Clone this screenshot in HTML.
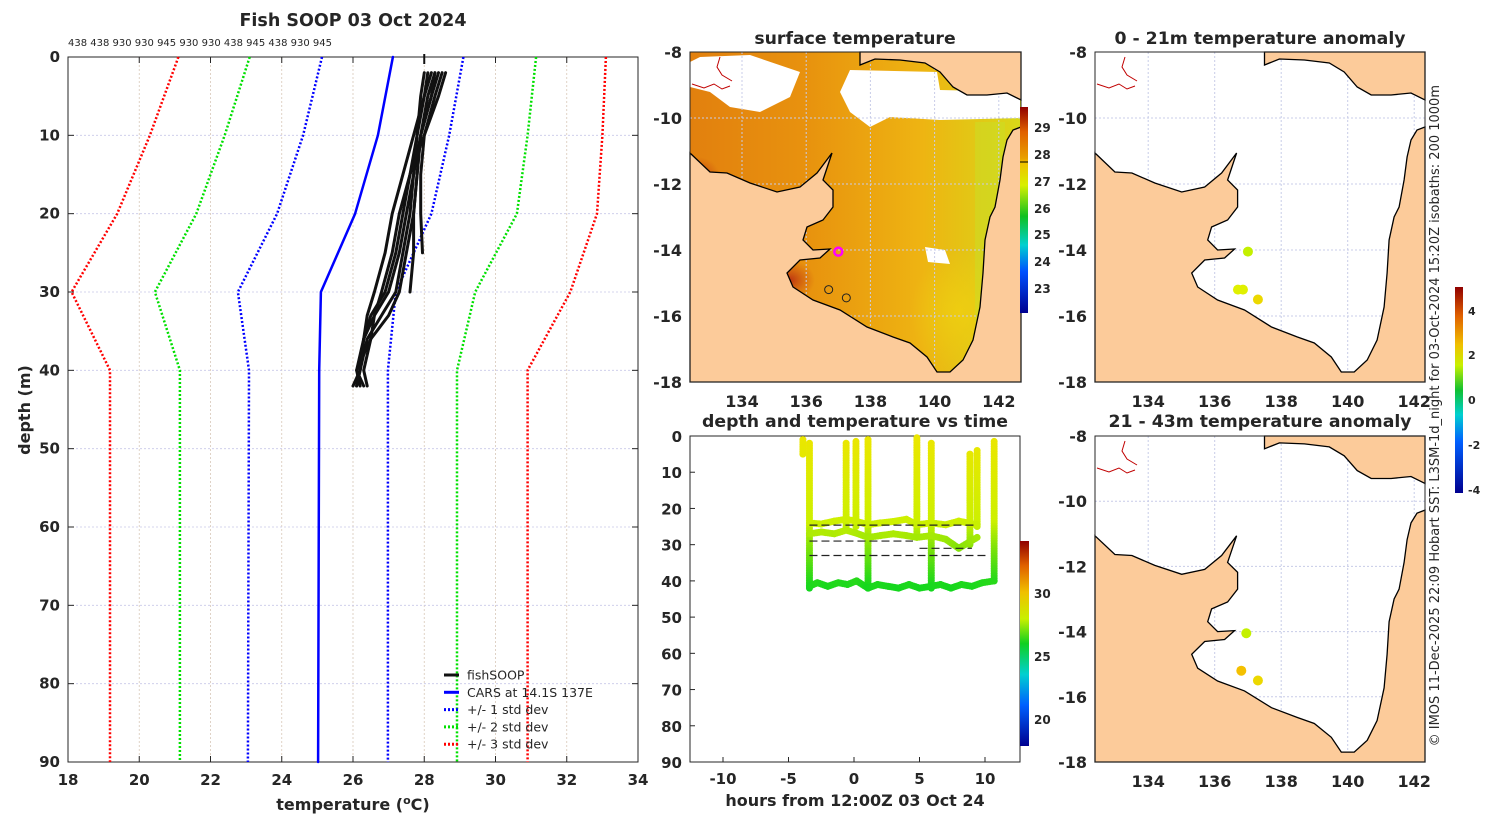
<!DOCTYPE html>
<html><head><meta charset="utf-8"><style>
body{margin:0;background:#fff;width:1500px;height:820px;overflow:hidden}
svg{display:block}
text{font-family:"DejaVu Sans","Liberation Sans",sans-serif;fill:#262626}
.b{font-weight:bold}
</style></head><body>
<svg id="s" width="1500" height="820" viewBox="0 0 1500 820" xmlns="http://www.w3.org/2000/svg">
<defs>
<linearGradient id="sstg" x1="0" x2="1" y1="0" y2="0"><stop offset="0" stop-color="#e2800e"/><stop offset="0.35" stop-color="#e8920e"/><stop offset="0.7" stop-color="#eeb412"/><stop offset="1" stop-color="#d8d818"/></linearGradient>
<radialGradient id="hot1"><stop offset="0" stop-color="#b82a10" stop-opacity="0.9"/><stop offset="1" stop-color="#c84a10" stop-opacity="0"/></radialGradient>
<radialGradient id="yel1"><stop offset="0" stop-color="#f0d010" stop-opacity="0.8"/><stop offset="1" stop-color="#f0d010" stop-opacity="0"/></radialGradient>
<linearGradient id="cbS" x1="0" x2="0" y1="1" y2="0"><stop offset="0" stop-color="#00008f"/><stop offset="0.2" stop-color="#0050ff"/><stop offset="0.33" stop-color="#00d0d0"/><stop offset="0.47" stop-color="#10c020"/><stop offset="0.62" stop-color="#d8f000"/><stop offset="0.73" stop-color="#f0c000"/><stop offset="0.75" stop-color="#e8a000"/><stop offset="0.88" stop-color="#e06000"/><stop offset="1" stop-color="#900000"/></linearGradient>
<linearGradient id="cbT" x1="0" x2="0" y1="1" y2="0"><stop offset="0" stop-color="#00008f"/><stop offset="0.2" stop-color="#0060ff"/><stop offset="0.35" stop-color="#00d0d0"/><stop offset="0.5" stop-color="#10d020"/><stop offset="0.62" stop-color="#c8f000"/><stop offset="0.75" stop-color="#f0c000"/><stop offset="0.88" stop-color="#e06000"/><stop offset="1" stop-color="#900000"/></linearGradient>
<linearGradient id="cbA" x1="0" x2="0" y1="1" y2="0"><stop offset="0" stop-color="#00008f"/><stop offset="0.25" stop-color="#0060ff"/><stop offset="0.38" stop-color="#00d0d0"/><stop offset="0.5" stop-color="#10c030"/><stop offset="0.62" stop-color="#c8f000"/><stop offset="0.72" stop-color="#f0c000"/><stop offset="0.86" stop-color="#e06000"/><stop offset="1" stop-color="#900000"/></linearGradient>
<clipPath id="sstclip"><rect x="690" y="52" width="331" height="330"/></clipPath>
</defs>
</svg>
<script>
// ---------- data ----------
const depthLevels = [2,5,10,15,20,25,30,33,36,40,42];
const prof1 = [28.1,28.0,27.8,27.6,27.4,27.2,26.9,26.5,26.3,26.2,26.1];
const prof2 = [28.4,28.2,27.9,27.7,27.5,27.3,27.0,26.6,26.3,26.1,26.2];
const prof3 = [28.0,27.9,27.8,27.7,27.6,27.4,27.2,26.8,26.4,26.2,26.0];
const prof4 = [28.3,28.2,27.9,27.8,27.7,27.5,27.3,27.0,26.5,26.1,26.3];
const prof5 = [28.5,28.3,28.0,27.9,27.9,27.95,null,null,null,null,null];
const prof6 = [28.3,28.1,27.9,27.8,27.7,27.7,27.6,null,null,null,null];
const prof7 = [28.2,28.0,27.7,27.4,27.1,26.9,26.6,26.4,26.3,26.2,26.1];
const prof8 = [28.6,28.4,28.0,27.6,27.3,27.1,26.8,26.6,26.5,26.3,26.4];
const carsDepth = [0,10,20,30,40,90];
const carsMean = [27.12,26.7,26.06,25.1,25.05,25.02];
const std1Hi = [29.1,28.7,28.2,27.2,26.98,26.98];
const std1Lo = [25.13,24.6,23.87,22.77,23.08,23.05];
const std2Hi = [31.14,30.9,30.6,29.43,28.92,28.92];
const std2Lo = [23.1,22.4,21.6,20.44,21.14,21.14];
const std3Hi = [33.1,33.0,32.85,32.1,30.9,30.9];
const std3Lo = [21.1,20.3,19.38,18.1,19.18,19.18];
const xTicks = [18,20,22,24,26,28,30,32,34];
const yTicks = [0,10,20,30,40,50,60,70,80,90];
const topLabels = "438 438 930 930 945 930 930 438 945 438 930 945";
// time series
const castHours = [-3.9,-3.4,-0.6,0.15,1.07,4.8,5.9,8.85,9.4,10.7];
const castTop = [1,2,2,1.5,1,0.5,2,5,4,1.5];
const castBottom = [5,42,25,25,42,27,42,30,25,40];
const trackHours = [-3.4,-2.5,-1.5,-0.6,0.15,1.07,2,3,4,4.8,5.9,7,8,9.4];
const track1Depth = [24,24.3,23.5,23,23.5,24.5,24,23.6,23,24.5,24,24.5,23.5,24.5];
const track2Depth = [27,26.5,27,26,26.8,28,27.5,27,27.5,28,27.5,28.5,31,28];
const bottomHours = [-3.4,-2.8,-2,-1.2,-0.5,0.2,1.07,1.8,2.6,3.4,4.2,5,5.9,6.6,7.4,8.2,9,9.8,10.7];
const bottomDepth = [41.5,40.5,41.5,40.5,41,40,42,41,41.5,42,41,42,41.5,41,42,41,41.5,40.5,40];
const timeXTicks = [-10,-5,0,5,10];
// anomaly dots
const anomLon1 = [137.0,136.7,136.85,137.3];
const anomLat1 = [-14.05,-15.2,-15.2,-15.5];
const anomVal1 = [1.2,1.7,1.8,2.3];
const anomLon2 = [136.95,136.8,137.3];
const anomLat2 = [-14.05,-15.2,-15.5];
const anomVal2 = [1.4,2.6,2.3];

const S = document.getElementById('s');
const NS = 'http://www.w3.org/2000/svg';
function mk(tag, attrs, name){
  const el = document.createElementNS(NS, tag);
  for (const k in attrs) el.setAttribute(k, attrs[k]);
  
  
  S.appendChild(el);
  return el;
}
function txt(x,y,s,name,opt){
  const t = mk('text', Object.assign({x:x,y:y,'font-size':14},opt||{}), name);
  t.textContent = s; return t;
}

// ---------- left profile chart ----------
const L0=68,L1=638,T0=57,T1=762;
const X = t => L0+(t-18)*(L1-L0)/16;
const Y = d => T0+d*(T1-T0)/90;
xTicks.forEach(v=>{ mk('line',{x1:X(v),x2:X(v),y1:T0,y2:T1,stroke:'#d8c8b8','stroke-dasharray':'2,2','stroke-width':0.8},'grid-x'); });
yTicks.forEach(v=>{ mk('line',{x1:L0,x2:L1,y1:Y(v),y2:Y(v),stroke:'#c8c8e8','stroke-dasharray':'2,2','stroke-width':0.8},'grid-y'); });
mk('rect',{x:L0,y:T0,width:L1-L0,height:T1-T0,fill:'none',stroke:'#262626','stroke-width':1},'profile-axes-box');
xTicks.forEach(v=>{
  mk('line',{x1:X(v),x2:X(v),y1:T1,y2:T1-6,stroke:'#262626'},'x-tick');
  mk('line',{x1:X(v),x2:X(v),y1:T0,y2:T0+6,stroke:'#262626'},'x-tick');
  txt(X(v),785,String(v),'x-tick-label',{'text-anchor':'middle',class:'b','font-size':15});
});
yTicks.forEach(v=>{
  mk('line',{x1:L0,x2:L0+6,y1:Y(v),y2:Y(v),stroke:'#262626'},'y-tick');
  mk('line',{x1:L1,x2:L1-6,y1:Y(v),y2:Y(v),stroke:'#262626'},'y-tick');
  txt(60,Y(v)+5,String(v),'y-tick-label',{'text-anchor':'end',class:'b','font-size':15});
});
function line(ts,ds,col,w,dash,name){
  let p='';
  ts.forEach((t,i)=>{ if(t!==null){ p+=(p?'L':'M')+X(t).toFixed(1)+','+Y(ds[i]).toFixed(1);} });
  const a={d:p,fill:'none',stroke:col,'stroke-width':w,'stroke-linejoin':'round','stroke-linecap':'round'};
  if(dash){a['stroke-dasharray']=dash;a['stroke-linecap']='butt';}
  mk('path',a,name);
}
line(std3Lo,carsDepth,'#ff0000',2.5,'2,2','std3-low');
line(std3Hi,carsDepth,'#ff0000',2.5,'2,2','std3-high');
line(std2Lo,carsDepth,'#00e000',2.5,'2,2','std2-low');
line(std2Hi,carsDepth,'#00e000',2.5,'2,2','std2-high');
line(std1Lo,carsDepth,'#0000ff',2.5,'2,2','std1-low');
line(std1Hi,carsDepth,'#0000ff',2.5,'2,2','std1-high');
line(carsMean,carsDepth,'#0000ff',2.5,null,'cars-mean');
[prof1,prof2,prof3,prof4,prof5,prof6,prof7,prof8].forEach((p,i)=>line(p,depthLevels,'#111',3,null,'fishsoop-profile-'+(i+1)));
mk('line',{x1:X(28),x2:X(28),y1:T0-3,y2:T0+7,stroke:'#111','stroke-width':2},'surface-marker');
txt(353,26,'Fish SOOP 03 Oct 2024','profile-title',{'text-anchor':'middle',class:'b','font-size':17.5});
txt(68,46,topLabels,'cast-ids',{'font-size':10});
const xl=txt(353,810,'temperature (','x-axis-title',{'text-anchor':'middle',class:'b','font-size':16});
const sup=document.createElementNS(NS,'tspan');sup.setAttribute('dy','-6');sup.setAttribute('font-size','11');sup.textContent='o';xl.appendChild(sup);
const c2=document.createElementNS(NS,'tspan');c2.setAttribute('dy','6');c2.textContent='C)';xl.appendChild(c2);
txt(0,0,'depth (m)','y-axis-title',{'text-anchor':'middle',class:'b','font-size':16,transform:'translate(30,410) rotate(-90)'});
const leg=[['fishSOOP','#111',null],['CARS at 14.1S 137E','#0000ff',null],['+/- 1 std dev','#0000ff','2,2'],['+/- 2 std dev','#00e000','2,2'],['+/- 3 std dev','#ff0000','2,2']];
leg.forEach((e,i)=>{const y=675+i*17.3;
  const a={x1:444,x2:459,y1:y,y2:y,stroke:e[1],'stroke-width':3};if(e[2])a['stroke-dasharray']=e[2];
  mk('line',a,'legend-swatch');
  txt(467,y+4.5,e[0],'legend-entry',{'font-size':12.5});
});

// ---------- time series ----------
const A0=690,A1=1020,B0=436,B1=762;
const TX=h=>854+h*13.1, TY=d=>B0+d*(B1-B0)/90;
mk('rect',{x:A0,y:B0,width:A1-A0,height:B1-B0,fill:'#fff',stroke:'#262626'},'time-axes-box');
yTicks.forEach(v=>{
  mk('line',{x1:A0,x2:A0+5,y1:TY(v),y2:TY(v),stroke:'#262626'},'time-y-tick');
  txt(682,TY(v)+6,String(v),'time-y-tick-label',{'text-anchor':'end',class:'b','font-size':15});
});
timeXTicks.forEach(v=>{
  mk('line',{x1:TX(v),x2:TX(v),y1:B1,y2:B1-5,stroke:'#262626'},'time-x-tick');
  txt(TX(v),784,String(v),'time-x-tick-label',{'text-anchor':'middle',class:'b','font-size':15});
});
txt(855,806,'hours from 12:00Z 03 Oct 24','time-x-axis-title',{'text-anchor':'middle',class:'b','font-size':16});
txt(855,427,'depth and temperature vs time','time-title',{'text-anchor':'middle',class:'b','font-size':17.3});
function dcol(d){
  const stops=[[0,[236,230,0]],[24,[205,240,0]],[32,[120,225,10]],[42,[20,215,30]]];
  for(let i=1;i<stops.length;i++){ if(d<=stops[i][0]||i==stops.length-1){const a=stops[i-1],b=stops[i];let f=(d-a[0])/(b[0]-a[0]);f=Math.max(0,Math.min(1,f));
    return 'rgb('+a[1].map((c,j)=>Math.round(c+(b[1][j]-c)*f)).join(',')+')';}}
}
function dots(hs,ds,name){
  for(let i=1;i<hs.length;i++){
    const x0=TX(hs[i-1]),y0=TY(ds[i-1]),x1=TX(hs[i]),y1=TY(ds[i]);
    const n=Math.max(1,Math.ceil(Math.hypot(x1-x0,y1-y0)/2.5));
    for(let k=0;k<=n;k++){const f=k/n;const d=ds[i-1]+(ds[i]-ds[i-1])*f;
      mk('circle',{cx:x0+(x1-x0)*f,cy:y0+(y1-y0)*f,r:3.5,fill:dcol(d)},name);}
  }
}
castHours.forEach((h,i)=>dots([h,h],[castTop[i],castBottom[i]],'cast-dots'));
dots(trackHours,track1Depth,'track1-dots');
dots(trackHours,track2Depth,'track2-dots');
dots(bottomHours,bottomDepth,'bottom-track-dots');
[[24.6,-3.4,9.4],[29,-3.4,4.5],[31,5,9],[33,-3.4,10.2]].forEach(r=>{
  mk('line',{x1:TX(r[1]),x2:TX(r[2]),y1:TY(r[0]),y2:TY(r[0]),stroke:'#222','stroke-width':1.2,'stroke-dasharray':'8,4'},'reference-depth-line');
});
mk('rect',{x:1020,y:541,width:9,height:205,fill:'url(#cbT)'},'time-colorbar');
[[30,593],[25,656],[20,719]].forEach(c=>txt(1034,c[1]+5,String(c[0]),'time-colorbar-label',{'font-size':12,class:'b'}));

// ---------- maps ----------
const land=[[0,101],[20,120],[37,121],[60,131],[87,140],[110,135],[127,121],[142,101],[133,128],[143,138],[143,155],[133,168],[117,175],[113,188],[123,198],[140,197],[130,206],[110,208],[97,221],[103,235],[123,248],[150,258],[177,275],[203,285],[220,291],[237,305],[247,320],[260,320],[273,308],[283,288],[290,255],[293,221],[295,188],[300,165],[305,155],[310,128],[313,105],[317,88],[323,78],[331,75],[331,330],[0,330]];
const png=[[170,0],[170,13],[185,7],[210,8],[235,11],[250,20],[263,35],[277,43],[297,43],[317,41],[331,48],[331,0]];
function poly(pts,ox,oy,sx,sy,attrs,name){
  mk('polygon',Object.assign({points:pts.map(p=>(ox+p[0]*sx).toFixed(1)+','+(oy+p[1]*sy).toFixed(1)).join(' ')},attrs),name);
}
function map(ox,oy,w,h,lonPx,sst,title,prefix,tx,ty){
  const sx=w/331,sy=h/330;
  mk('rect',{x:ox,y:oy,width:w,height:h,fill:sst?'url(#sstg)':'#fff'},prefix+'-water');
  if(sst){
    mk('ellipse',{cx:ox+100,cy:oy+228,rx:25,ry:20,fill:'url(#hot1)','clip-path':'url(#sstclip)'},'sst-hot-spot');
    mk('ellipse',{cx:ox+8,cy:oy+125,rx:22,ry:20,fill:'url(#hot1)','clip-path':'url(#sstclip)'},'sst-hot-spot');
    mk('ellipse',{cx:ox+270,cy:oy+260,rx:50,ry:60,fill:'url(#yel1)'},'sst-warm-patch');
    mk('rect',{x:ox+285,y:oy+70,width:30,height:200,fill:'#c8e028',opacity:0.45},'sst-cool-band');
    poly([[160,18],[247,20],[250,38],[330,40],[330,66],[250,68],[200,65],[180,75],[160,60],[150,40]],ox,oy,1,1,{fill:'#fff'},'cloud-mask');
    poly([[10,5],[60,3],[110,20],[100,45],[70,60],[40,55],[20,40],[0,35],[0,10]],ox,oy,1,1,{fill:'#fff'},'cloud-mask');
    poly([[235,195],[255,198],[260,212],[238,210]],ox,oy,1,1,{fill:'#fff'},'cloud-mask');
  }
  [134,136,138,140,142].forEach(l=>{const x=ox+(l-lonPx[0])*lonPx[1];
    mk('line',{x1:x,x2:x,y1:oy,y2:oy+h,stroke:'#c8cce8','stroke-dasharray':'2,2'},prefix+'-grid-lon');
    txt(x,oy+h+25,String(l),prefix+'-lon-label',{'text-anchor':'middle',class:'b','font-size':16});});
  [-8,-10,-12,-14,-16,-18].forEach((l,i)=>{const y=oy+i*h/5;
    if(i>0&&i<5)mk('line',{x1:ox,x2:ox+w,y1:y,y2:y,stroke:'#c8cce8','stroke-dasharray':'2,2'},prefix+'-grid-lat');
    txt(ox-8,y+6,String(l),prefix+'-lat-label',{'text-anchor':'end',class:'b','font-size':16});});
  poly(land,ox,oy,sx,sy,{fill:'#fccb9a',stroke:'#000','stroke-width':1.3},prefix+'-land');
  poly(png,ox,oy,sx,sy,{fill:'#fccb9a',stroke:'#000','stroke-width':1.3},prefix+'-new-guinea');
  mk('path',{d:`M${ox+2} ${oy+32} l12 4 l10 -4 l8 5 l8 -3 M${ox+30} ${oy+5} l-3 10 l5 8 l10 6`,fill:'none',stroke:'#c00000','stroke-width':1},prefix+'-river');
  mk('rect',{x:ox,y:oy,width:w,height:h,fill:'none',stroke:'#262626'},prefix+'-box');
  txt(tx,ty,title,prefix+'-title',{'text-anchor':'middle',class:'b','font-size':17.3});
}
map(690,52,331,330,[132.38,32.1],true,'surface temperature','sst-map',855,44);
map(1095,52,330,330,[132.4,33.25],false,'0 - 21m temperature anomaly','anom1-map',1260,44);
map(1095,436,330,326,[132.4,33.25],false,'21 - 43m temperature anomaly','anom2-map',1260,427);
const sLon=l=>690+(l-132.38)*32.1, sLat=l=>52+(-8-l)*33;
mk('circle',{cx:sLon(137.0),cy:sLat(-14.05),r:4,fill:'none',stroke:'#ff00ff','stroke-width':2.5},'ship-position');
mk('circle',{cx:sLon(136.7),cy:sLat(-15.2),r:4,fill:'none',stroke:'#222','stroke-width':1},'cast-marker');
mk('circle',{cx:sLon(137.25),cy:sLat(-15.45),r:4,fill:'none',stroke:'#222','stroke-width':1},'cast-marker');
function acol(v){ if(v<1.5) return '#c4f000'; if(v<2) return '#e0f000'; if(v<2.4) return '#ecd800'; return '#f4c000'; }
anomLon1.forEach((l,i)=>mk('circle',{cx:1095+(l-132.4)*33.25,cy:52+(-8-anomLat1[i])*33,r:5,fill:acol(anomVal1[i])},'anomaly-dot-shallow'));
anomLon2.forEach((l,i)=>mk('circle',{cx:1095+(l-132.4)*33.25,cy:436+(-8-anomLat2[i])*32.6,r:5,fill:acol(anomVal2[i])},'anomaly-dot-deep'));
mk('rect',{x:1020,y:107,width:8,height:206,fill:'url(#cbS)'},'sst-colorbar');
mk('line',{x1:1020,x2:1028,y1:162,y2:162,stroke:'#000','stroke-width':1},'sst-colorbar-mark');
[[29,127],[28,154],[27,181],[26,208],[25,234],[24,261],[23,288]].forEach(c=>txt(1034,c[1]+5,String(c[0]),'sst-colorbar-label',{'font-size':12,class:'b'}));
mk('rect',{x:1455,y:287,width:8,height:206,fill:'url(#cbA)'},'anomaly-colorbar');
[[4,311],[2,355],[0,400],[-2,445],[-4,490]].forEach(c=>txt(1468,c[1]+4,String(c[0]),'anomaly-colorbar-label',{'font-size':11,class:'b'}));
txt(0,0,'© IMOS 11-Dec-2025 22:09 Hobart SST: L3SM-1d_night for 03-Oct-2024 15:20Z isobaths: 200  1000m','credit-text',{'font-size':13,'text-anchor':'end',transform:'translate(1439,85) rotate(-90)'});
</script>
</body></html>
